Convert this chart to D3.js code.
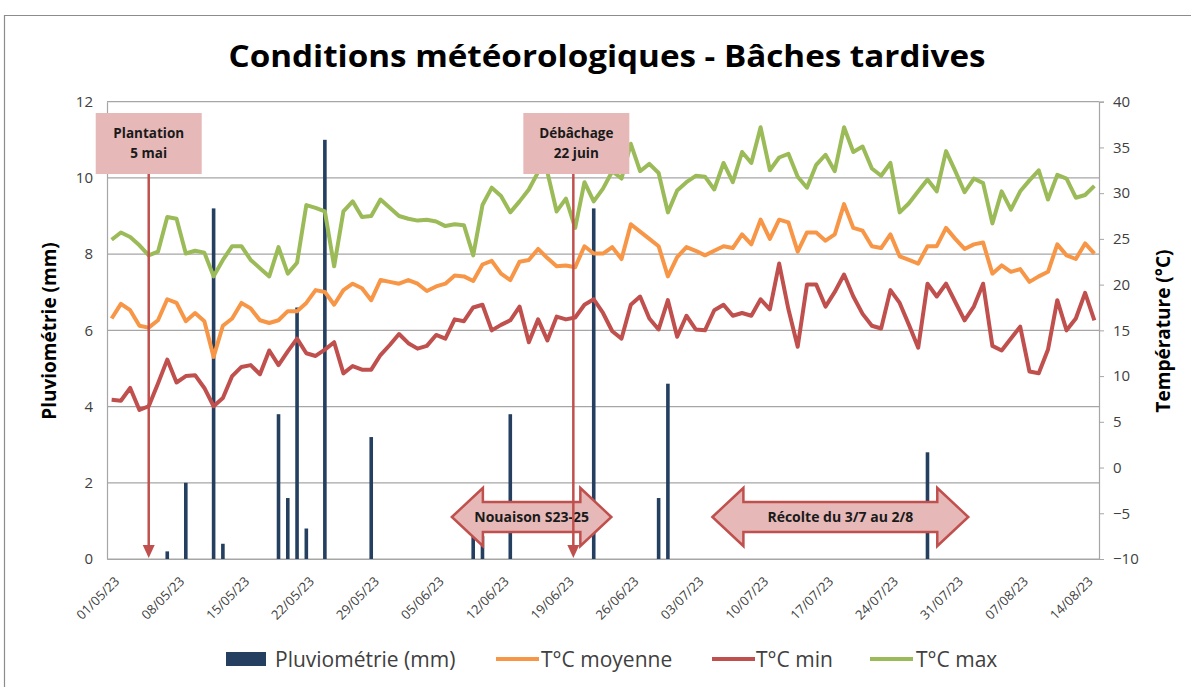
<!DOCTYPE html>
<html>
<head>
<meta charset="utf-8">
<script src="https://cdn.jsdelivr.net/npm/d3@7"></script>
<style>
  body { margin: 0; background: #fff; }
  text { font-family: "Open Sans", sans-serif; }
</style>
</head>
<body>
<svg id="chart" width="1191" height="687"></svg>
<script>
// daily data, 01/05/23 -> 15/08/23
var firstDay = "01/05/23";

var rainMm = [
    0, 0, 0, 0, 0, 0, 0.2, 0, 2.0, 0,
    0, 9.2, 0.4, 0, 0, 0, 0, 0, 3.8, 1.6,
    6.6, 0.8, 0, 11.0, 0, 0, 0, 0, 3.2, 0,
    0, 0, 0, 0, 0, 0, 0, 0, 0, 1.0,
    0.6, 0, 0, 3.8, 0, 0, 0, 0, 0, 0,
    0, 0, 9.2, 0, 0, 0, 0, 0, 0, 1.6,
    4.6, 0, 0, 0, 0, 0, 0, 0, 0, 0,
    0, 0, 0, 0, 0, 0, 0, 0, 0, 0,
    0, 0, 0, 0, 0, 0, 0, 0, 2.8, 0,
    0, 0, 0, 0, 0, 0, 0, 0, 0, 0,
    0, 0, 0, 0, 0, 0, 0
];

var tMean = [
    16.3, 17.9, 17.2, 15.5, 15.3, 16.1, 18.4, 18.0, 16.0, 16.9,
    16.0, 12.1, 15.5, 16.3, 18.0, 17.4, 16.1, 15.8, 16.1, 17.1,
    17.1, 18.0, 19.4, 19.2, 17.8, 19.4, 20.1, 19.6, 18.3, 20.5,
    20.3, 20.1, 20.5, 20.1, 19.3, 19.8, 20.1, 21.0, 20.9, 20.4,
    22.2, 22.6, 21.2, 20.5, 22.5, 22.7, 23.9, 22.9, 22.0, 22.1,
    21.9, 24.2, 23.4, 23.4, 24.1, 22.8, 26.6, 25.8, 25.0, 24.2,
    20.9, 23.0, 24.1, 23.7, 23.2, 23.7, 24.2, 24.0, 25.5, 24.4,
    27.1, 25.0, 27.1, 26.8, 23.6, 25.7, 25.7, 24.8, 25.5, 28.8,
    26.2, 25.9, 24.2, 24.0, 25.5, 23.1, 22.7, 22.3, 24.2, 24.2,
    26.2, 25.0, 23.9, 24.4, 24.6, 21.2, 22.1, 21.4, 21.7, 20.3,
    20.9, 21.4, 24.4, 23.2, 22.8, 24.5, 23.4
];

var tMin = [
    7.4, 7.3, 8.7, 6.3, 6.7, 9.2, 11.8, 9.3, 10.0, 10.1,
    8.7, 6.7, 7.6, 10.0, 11.0, 11.2, 10.2, 12.8, 11.2, 12.7,
    14.1, 12.5, 12.2, 12.9, 13.7, 10.3, 11.1, 10.7, 10.7, 12.3,
    13.4, 14.6, 13.6, 13.0, 13.3, 14.5, 14.1, 16.2, 16.0, 17.5,
    17.8, 15.0, 15.6, 16.1, 17.6, 13.7, 16.2, 13.9, 16.5, 16.2,
    16.4, 17.8, 18.4, 16.9, 14.9, 14.1, 17.8, 18.7, 16.3, 15.1,
    18.3, 14.3, 16.6, 15.1, 15.0, 17.2, 17.8, 16.6, 16.9, 16.6,
    18.4, 17.3, 22.3, 17.3, 13.2, 20.0, 20.0, 17.6, 19.2, 21.1,
    18.7, 16.8, 15.5, 15.2, 19.4, 18.0, 15.6, 13.1, 20.1, 18.7,
    20.1, 18.1, 16.1, 17.6, 20.1, 13.3, 12.8, 14.1, 15.4, 10.5,
    10.3, 12.9, 18.3, 15.0, 16.3, 19.1, 16.1
];

var tMax = [
    24.9, 25.7, 25.2, 24.3, 23.2, 23.6, 27.4, 27.2, 23.4, 23.7,
    23.5, 20.9, 22.7, 24.2, 24.2, 22.7, 21.8, 20.9, 24.1, 21.2,
    22.4, 28.7, 28.4, 28.0, 22.0, 28.0, 29.1, 27.4, 27.5, 29.3,
    28.4, 27.5, 27.2, 27.0, 27.1, 26.9, 26.4, 26.6, 26.5, 23.2,
    28.7, 30.6, 29.7, 27.9, 29.1, 30.4, 32.3, 32.3, 28.0, 29.4,
    26.2, 31.2, 29.1, 30.5, 32.4, 31.6, 35.4, 32.4, 33.2, 32.2,
    27.9, 30.3, 31.2, 31.9, 31.8, 30.4, 33.3, 31.2, 34.5, 33.3,
    37.2, 32.5, 33.9, 34.3, 31.8, 30.6, 33.1, 34.2, 32.4, 37.2,
    34.5, 35.1, 32.7, 31.9, 33.3, 27.9, 28.9, 30.2, 31.5, 30.2,
    34.6, 32.4, 30.1, 31.6, 31.1, 26.7, 30.2, 28.2, 30.2, 31.4,
    32.5, 29.3, 32.0, 31.6, 29.5, 29.8, 30.8
];

var tickLabels = ["01/05/23", "08/05/23", "15/05/23", "22/05/23", "29/05/23", "05/06/23",
    "12/06/23", "19/06/23", "26/06/23", "03/07/23", "10/07/23", "17/07/23",
    "24/07/23", "31/07/23", "07/08/23", "14/08/23"];
var rainTicks = [0, 2, 4, 6, 8, 10, 12];
var tempTicks = [-10, -5, 0, 5, 10, 15, 20, 25, 30, 35, 40];

var seriesNames = ["Pluviométrie (mm)", "T°C moyenne", "T°C min", "T°C max"];

// callouts: day offset from firstDay
var callouts = [
    { lines: ["Plantation", "5 mai"], day: 4.0 },
    { lines: ["Débâchage", "22 juin"], day: 49.8 }
];
var periods = [
    { label: "Nouaison S23-25", from: 36.7, to: 53.9 },
    { label: "Récolte du 3/7 au 2/8", from: 64.8, to: 92.4 }
];

var colors = { rain: "#243f60", mean: "#f79646", min: "#c0504d", max: "#9bbb59",
    grid: "#a6a6a6", text: "#404040", pink: "#e6b9b8" };

var svg = d3.select("#chart");
var parse = d3.timeParse("%d/%m/%y");
var start = parse(firstDay);
var dates = rainMm.map(function (d, i) { return d3.timeDay.offset(start, i); });
function dayAt(f) { return new Date(start.getTime() + f * 864e5); }

var plot = { left: 107, right: 1099, top: 101.7, bottom: 559 };

var x = d3.scaleTime()
    .domain([dayAt(-0.5), dayAt(dates.length - 0.5)])
    .range([plot.left, plot.right]);
var yRain = d3.scaleLinear().domain([0, 12]).range([plot.bottom, plot.top]);
var yTemp = d3.scaleLinear().domain([-10, 40]).range([plot.bottom, plot.top]);

// chart frame
svg.append("path").attr("d", "M4.5,687 V15.5 H1191")
    .attr("fill", "none").attr("stroke", "#8c8c8c").attr("stroke-width", 1.2);

// title
svg.append("text").attr("x", 607).attr("y", 67)
    .attr("text-anchor", "middle")
    .attr("font-size", 30).attr("font-weight", "bold").attr("fill", "#000")
    .attr("textLength", 757).attr("lengthAdjust", "spacingAndGlyphs")
    .text("Conditions météorologiques - Bâches tardives");

// gridlines
svg.append("g").selectAll("line").data(rainTicks).enter().append("line")
    .attr("x1", plot.left).attr("x2", plot.right)
    .attr("y1", function (d) { return yRain(d); })
    .attr("y2", function (d) { return yRain(d); })
    .attr("stroke", colors.grid).attr("stroke-width", 1.2);

// left axis
var leftAxis = svg.append("g").attr("transform", "translate(" + plot.left + ",0)")
    .call(d3.axisLeft(yRain).tickValues(rainTicks).tickSize(0).tickPadding(14));
leftAxis.select(".domain").attr("stroke", colors.grid).attr("stroke-width", 1.2);
leftAxis.selectAll("text").attr("font-size", 15).attr("fill", colors.text)
    .style("font-family", "Open Sans");

// right axis
var rightAxis = svg.append("g").attr("transform", "translate(" + plot.right + ",0)")
    .call(d3.axisRight(yTemp).tickValues(tempTicks).tickSize(5).tickPadding(9));
rightAxis.select(".domain").attr("stroke", colors.grid).attr("stroke-width", 1.2);
rightAxis.selectAll("line").attr("stroke", colors.grid);
rightAxis.selectAll("text").attr("font-size", 15).attr("fill", colors.text)
    .style("font-family", "Open Sans");

// bottom axis
var bottomAxis = svg.append("g").attr("transform", "translate(0," + plot.bottom + ")")
    .call(d3.axisBottom(x).tickValues(tickLabels.map(parse))
        .tickFormat(d3.timeFormat("%d/%m/%y")).tickSize(0));
bottomAxis.select(".domain").attr("stroke", colors.grid).attr("stroke-width", 1.2);
bottomAxis.selectAll("text")
    .attr("font-size", 13).attr("fill", colors.text).style("font-family", "Open Sans")
    .attr("text-anchor", "end")
    .attr("x", 0).attr("y", 0).attr("dy", "0.35em")
    .attr("transform", "translate(5,20) rotate(-45)");

// axis titles
svg.append("text").attr("transform", "translate(56,331) rotate(-90)")
    .attr("text-anchor", "middle").attr("font-size", 19).attr("font-weight", "bold")
    .attr("fill", "#000").text("Pluviométrie (mm)");
svg.append("text").attr("transform", "translate(1170,331) rotate(-90)")
    .attr("text-anchor", "middle").attr("font-size", 19).attr("font-weight", "bold")
    .attr("fill", "#000").text("Température (°C)");

// rain bars
var barW = 3.6;
var bars = svg.append("g");
rainMm.forEach(function (v, i) {
    if (v <= 0) return;
    bars.append("rect")
        .attr("x", x(dates[i]) - barW / 2)
        .attr("y", yRain(v))
        .attr("width", barW)
        .attr("height", yRain(0) - yRain(v))
        .attr("fill", colors.rain);
});

// temperature lines
var line = d3.line()
    .x(function (d, i) { return x(dates[i]); })
    .y(function (d) { return yTemp(d); });
[[tMean, colors.mean], [tMin, colors.min], [tMax, colors.max]].forEach(function (s) {
    svg.append("path").datum(s[0])
        .attr("d", line)
        .attr("fill", "none")
        .attr("stroke", s[1])
        .attr("stroke-width", 4)
        .attr("stroke-linejoin", "round");
});

// period double arrows
var cy = 517, headLen = 31, headHalf = 29, bodyHalf = 15;
periods.forEach(function (p) {
    var x0 = x(dayAt(p.from)), x1 = x(dayAt(p.to));
    var pts = [[x0, cy], [x0 + headLen, cy - headHalf], [x0 + headLen, cy - bodyHalf],
        [x1 - headLen, cy - bodyHalf], [x1 - headLen, cy - headHalf], [x1, cy],
        [x1 - headLen, cy + headHalf], [x1 - headLen, cy + bodyHalf],
        [x0 + headLen, cy + bodyHalf], [x0 + headLen, cy + headHalf]];
    svg.append("path")
        .attr("d", "M" + pts.join("L") + "Z")
        .attr("fill", colors.pink).attr("stroke", colors.min).attr("stroke-width", 2.5)
        .attr("stroke-linejoin", "miter");
    svg.append("text").attr("x", (x0 + x1) / 2).attr("y", cy + 5)
        .attr("text-anchor", "middle").attr("font-size", 14).attr("font-weight", "bold")
        .attr("fill", "#1a1a1a").text(p.label);
});

// callout boxes with arrows
callouts.forEach(function (c) {
    var cx = x(dayAt(c.day));
    var bx = cx + (c.day > 20 ? 3 : 0);
    svg.append("rect").attr("x", bx - 53).attr("y", 113).attr("width", 106).attr("height", 61)
        .attr("fill", colors.pink);
    c.lines.forEach(function (t, k) {
        svg.append("text").attr("x", bx).attr("y", 138 + k * 20)
            .attr("text-anchor", "middle").attr("font-size", 13.5).attr("font-weight", "bold")
            .attr("fill", "#1a1a1a").text(t);
    });
    svg.append("line").attr("x1", cx).attr("x2", cx).attr("y1", 174).attr("y2", 547)
        .attr("stroke", colors.min).attr("stroke-width", 2.5);
    svg.append("path")
        .attr("d", "M" + (cx - 6) + ",545 L" + (cx + 6) + ",545 L" + cx + ",558 Z")
        .attr("fill", colors.min);
});

// legend
var legend = svg.append("g").attr("transform", "translate(0,659)");
var legendItems = [
    { name: seriesNames[0], color: colors.rain, x: 226, tx: 275, bar: true },
    { name: seriesNames[1], color: colors.mean, x: 496, tx: 541 },
    { name: seriesNames[2], color: colors.min, x: 712, tx: 756 },
    { name: seriesNames[3], color: colors.max, x: 870, tx: 916 }
];
legendItems.forEach(function (d) {
    if (d.bar) {
        legend.append("rect").attr("x", d.x).attr("y", -7).attr("width", 40).attr("height", 14)
            .attr("fill", d.color);
    } else {
        legend.append("line").attr("x1", d.x).attr("x2", d.x + 43).attr("y1", 0).attr("y2", 0)
            .attr("stroke", d.color).attr("stroke-width", 4);
    }
    legend.append("text").attr("x", d.tx).attr("y", 7.5)
        .attr("font-size", 21).attr("fill", colors.text).text(d.name);
});
</script>
</body>
</html>
